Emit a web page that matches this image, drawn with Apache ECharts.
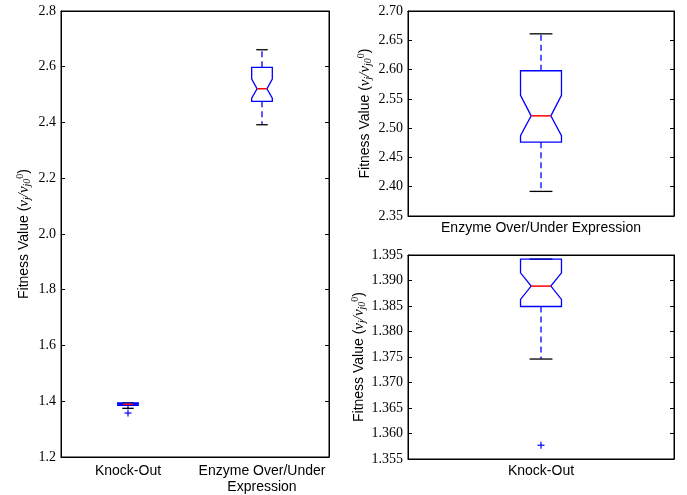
<!DOCTYPE html>
<html>
<head>
<meta charset="utf-8">
<script src="https://cdn.jsdelivr.net/npm/echarts@6/dist/echarts.min.js"></script>
<style>
  html, body { margin: 0; padding: 0; background: #fff; }
  #main { width: 687px; height: 495px; }
</style>
</head>
<body>
<div id="main"></div>
<script>
// categories
const categories = ['Knock-Out', 'Enzyme Over/Under\nExpression'];
const enzymeLabel = ['Enzyme Over/Under Expression'];
const knockLabel = ['Knock-Out'];

// [whiskerLow, q1, median, q3, whiskerHigh, notchLow, notchHigh]
const knockOutStats = [1.3746, 1.3849, 1.3889, 1.3942, 1.3942, 1.3863, 1.3915];
const enzymeStats = [2.392, 2.476, 2.521, 2.598, 2.661, 2.487, 2.556];
// outliers (fliers)
const knockOutOutliers = [1.3577];
const enzymeOutliers = [];

// y axis ranges: [min, max, interval, decimals]
const leftRange = [1.2, 2.8, 0.2, 1];
const enzymeRange = [2.35, 2.70, 0.05, 2];
const knockRange = [1.355, 1.395, 0.005, 3];

const BLUE = '#0000ff';
const RED = '#ff0000';

// notched box drawn with the axis scales
function renderBox(params, api) {
  const c = api.value(0);
  const band = api.size([1, 0])[0];
  const y = i => api.coord([c, api.value(i)])[1];
  const cx = api.coord([c, api.value(3)])[0];
  const yLo = y(1), yQ1 = y(2), yMed = y(3), yQ3 = y(4), yHi = y(5), yNlo = y(6), yNhi = y(7);
  const bw = band * 0.077, nw = band * 0.037, cw = band * 0.043;
  const dash = { stroke: BLUE, lineWidth: 1.3, lineDash: [6, 4], fill: null };
  const cap = { stroke: '#000', lineWidth: 1.3 };
  return {
    type: 'group',
    children: [
      { type: 'line', shape: { x1: cx, y1: yQ3, x2: cx, y2: yHi }, style: dash },
      { type: 'line', shape: { x1: cx, y1: yQ1, x2: cx, y2: yLo }, style: dash },
      { type: 'line', shape: { x1: cx - cw, y1: yHi, x2: cx + cw, y2: yHi }, style: cap },
      { type: 'line', shape: { x1: cx - cw, y1: yLo, x2: cx + cw, y2: yLo }, style: cap },
      {
        type: 'polygon',
        shape: {
          points: [
            [cx - bw, yQ1], [cx - bw, yNlo], [cx - nw, yMed], [cx - bw, yNhi], [cx - bw, yQ3],
            [cx + bw, yQ3], [cx + bw, yNhi], [cx + nw, yMed], [cx + bw, yNlo], [cx + bw, yQ1]
          ]
        },
        style: { fill: null, stroke: BLUE, lineWidth: 1.3 }
      },
      { type: 'line', shape: { x1: cx - nw, y1: yMed, x2: cx + nw, y2: yMed }, style: { stroke: RED, lineWidth: 1.5 } }
    ]
  };
}

function renderFlier(params, api) {
  const p = api.coord([api.value(0), api.value(1)]);
  const s = 3.5;
  const st = { stroke: BLUE, lineWidth: 1.2 };
  return {
    type: 'group',
    children: [
      { type: 'line', shape: { x1: p[0] - s, y1: p[1], x2: p[0] + s, y2: p[1] }, style: st },
      { type: 'line', shape: { x1: p[0], y1: p[1] - s, x2: p[0], y2: p[1] + s }, style: st }
    ]
  };
}

const nameRich = {
  a: { fontFamily: 'Liberation Sans', fontSize: 14, color: '#000' },
  m: { fontFamily: 'Liberation Serif', fontStyle: 'italic', fontSize: 15, color: '#000' },
  s: { fontFamily: 'Liberation Serif', fontStyle: 'italic', fontSize: 10, color: '#000', padding: [7, 0, 0, 0] },
  p: { fontFamily: 'Liberation Serif', fontSize: 10, color: '#000', padding: [0, 0, 8, 0] }
};
const yName = '{a|Fitness Value (}{m|v}{s|j}{m|/v}{s|j0}{p|0}{a|)}';

const tick = { inside: true, alignWithLabel: true, length: 4, lineStyle: { color: '#000', width: 1 } };
const line = { show: true, lineStyle: { color: '#000', width: 1 } };

function xAxes(grid, data, margin) {
  return [
    {
      gridIndex: grid, type: 'category', data: data, position: 'bottom',
      axisLine: line, axisTick: tick,
      axisLabel: { interval: 0, fontFamily: 'Liberation Sans', fontSize: 14, color: '#000', margin: margin, lineHeight: 16 }
    },
    {
      gridIndex: grid, type: 'category', data: data, position: 'top',
      axisLine: line, axisTick: tick,
      axisLabel: { show: false }
    }
  ];
}

function yAxes(grid, r, gap) {
  const common = {
    gridIndex: grid, type: 'value', min: r[0], max: r[1], interval: r[2],
    axisLine: line, splitLine: { show: false },
    axisTick: { show: true, inside: true, length: 4, lineStyle: { color: '#000', width: 1 } }
  };
  return [
    Object.assign({}, common, {
      position: 'left',
      axisLabel: { fontFamily: 'Liberation Serif', fontSize: 14, color: '#000', margin: 5,
        formatter: v => v.toFixed(r[3]) },
      name: yName, nameLocation: 'middle', nameGap: gap, nameRotate: 90,
      nameTextStyle: { rich: nameRich }
    }),
    Object.assign({}, common, { position: 'right', axisLabel: { show: false } })
  ];
}

const chart = echarts.init(document.getElementById('main'), null, { renderer: 'canvas' });

const gridBase = { show: true, borderColor: '#000', borderWidth: 1, backgroundColor: '#fff', containLabel: false };

chart.setOption({
  animation: false,
  backgroundColor: '#fff',
  grid: [
    Object.assign({ left: 61, top: 11, width: 268, height: 448 }, gridBase),
    Object.assign({ left: 408, top: 11, width: 266, height: 205 }, gridBase),
    Object.assign({ left: 408, top: 255, width: 266, height: 204 }, gridBase)
  ],
  xAxis: [].concat(xAxes(0, categories, 6), xAxes(1, enzymeLabel, 4), xAxes(2, knockLabel, 4)),
  yAxis: [].concat(yAxes(0, leftRange, 28), yAxes(1, enzymeRange, 34), yAxes(2, knockRange, 40)),
  series: [
    {
      type: 'custom', xAxisIndex: 0, yAxisIndex: 0, renderItem: renderBox,
      encode: { x: 0, y: [1, 2, 3, 4, 5] },
      data: [[0].concat(knockOutStats), [1].concat(enzymeStats)]
    },
    {
      type: 'custom', xAxisIndex: 0, yAxisIndex: 0, renderItem: renderFlier,
      encode: { x: 0, y: 1 },
      data: knockOutOutliers.map(v => [0, v]).concat(enzymeOutliers.map(v => [1, v]))
    },
    {
      type: 'custom', xAxisIndex: 2, yAxisIndex: 2, renderItem: renderBox,
      encode: { x: 0, y: [1, 2, 3, 4, 5] },
      data: [[0].concat(enzymeStats)]
    },
    {
      type: 'custom', xAxisIndex: 4, yAxisIndex: 4, renderItem: renderBox,
      encode: { x: 0, y: [1, 2, 3, 4, 5] },
      data: [[0].concat(knockOutStats)]
    },
    {
      type: 'custom', xAxisIndex: 4, yAxisIndex: 4, renderItem: renderFlier,
      encode: { x: 0, y: 1 },
      data: knockOutOutliers.map(v => [0, v])
    }
  ]
});
</script>
</body>
</html>
